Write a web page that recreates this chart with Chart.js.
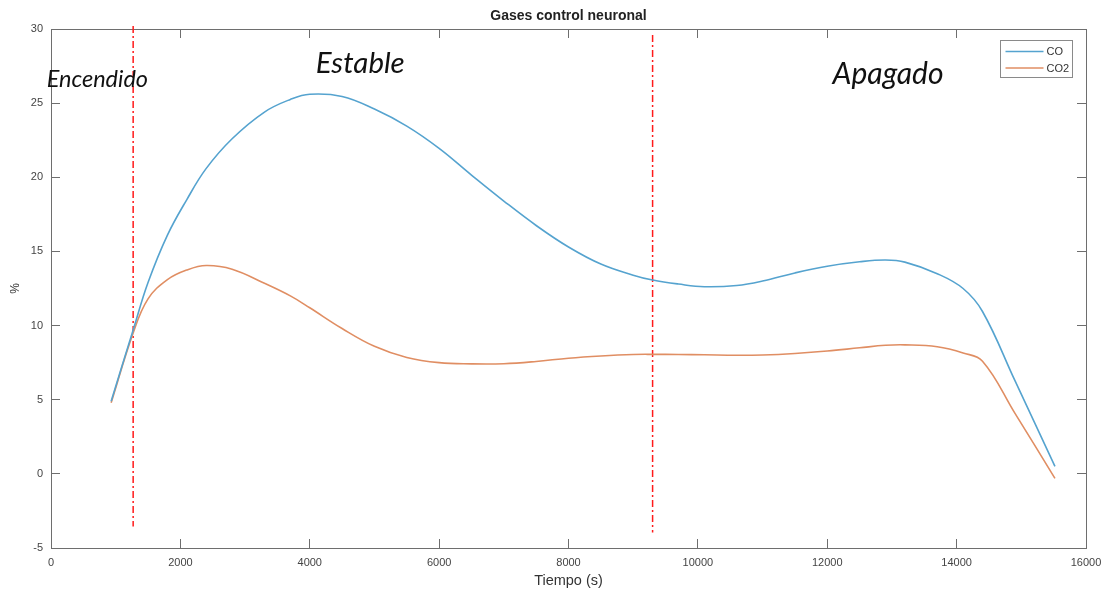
<!DOCTYPE html>
<html>
<head>
<meta charset="utf-8">
<script src="https://cdn.jsdelivr.net/npm/chart.js@4.4.1/dist/chart.umd.min.js"></script>
<style>
  html, body { margin: 0; padding: 0; background: #ffffff; }
  #wrap { width: 1105px; height: 592px; }
</style>
</head>
<body>
<div id="wrap"><canvas id="c" width="1105" height="592"></canvas></div>
<script>
// Sample times (s)
const timeS = [930, 1270, 1500, 1800, 2100, 2400, 2800, 3300, 3700, 4000, 4500, 5000, 5500, 6000,
  6500, 7000, 7500, 8000, 8500, 9000, 9300, 9700, 10100, 10600, 11000, 11500, 12000, 12500,
  12900, 13200, 13700, 14100, 14400, 14900, 15520];

// CO concentration (%)
const coPct = [4.9, 9.7, 12.9, 16.1, 18.5, 20.6, 22.6, 24.4, 25.25, 25.6, 25.45, 24.6, 23.45, 21.95,
  20.15, 18.4, 16.75, 15.3, 14.15, 13.4, 13.07, 12.8, 12.62, 12.7, 13.0, 13.55, 14.0, 14.3,
  14.42, 14.28, 13.5, 12.5, 10.95, 6.3, 0.5];

// CO2 concentration (%)
const co2Pct = [4.8, 9.5, 11.8, 13.1, 13.75, 14.05, 13.8, 12.85, 12.0, 11.2, 9.8, 8.6, 7.85, 7.5,
  7.42, 7.43, 7.58, 7.8, 7.95, 8.05, 8.06, 8.05, 8.03, 8.0, 8.02, 8.12, 8.28, 8.5,
  8.67, 8.7, 8.57, 8.15, 7.6, 4.1, -0.3];

// Phase boundaries (s) and the vertical extent of each marker line (%)
const phaseBoundaryS = [1270, 9300];
const boundaryTop = [30.2, 29.6];
const boundaryBottom = [-3.55, -3.95];

// Phase names and where they are written (s, %)
const phaseNames = ['Encendido', 'Estable', 'Apagado'];
const phaseLabelX = [717, 4780, 12940];
const phaseLabelY = [26.6, 27.68, 26.94];

// Axis ranges
const xRange = [0, 16000];
const xStep = 2000;
const yRange = [-5, 30];
const yStep = 5;

const seriesNames = ['CO', 'CO2'];
const seriesColors = ['#55a3cf', '#e08e63'];

const toPoints = (xs, ys) => xs.map((x, i) => ({ x: x, y: ys[i] }));

const datasets = [
  { label: seriesNames[0], data: toPoints(timeS, coPct), borderColor: seriesColors[0],
    borderWidth: 1.6, pointRadius: 0, tension: 0.4, fill: false },
  { label: seriesNames[1], data: toPoints(timeS, co2Pct), borderColor: seriesColors[1],
    borderWidth: 1.6, pointRadius: 0, tension: 0.4, fill: false }
];
phaseBoundaryS.forEach((s, i) => {
  datasets.push({
    label: 'limite' + i,
    data: [{ x: s, y: boundaryTop[i] }, { x: s, y: boundaryBottom[i] }],
    borderColor: '#ff1a1a', borderWidth: 1.5, borderDash: [7, 3, 2, 3],
    pointRadius: 0, tension: 0, fill: false, clip: false
  });
});

const axisColor = '#6e6e6e';
const tickFont = { family: "'Liberation Sans', Arial, sans-serif", size: 11 };

// Phase names over the plot
const phaseTextPlugin = {
  id: 'phaseText',
  afterDatasetsDraw(chart) {
    const { ctx, scales } = chart;
    ctx.save();
    ctx.fillStyle = '#111111';
    ctx.textAlign = 'center';
    ctx.textBaseline = 'middle';
    const sizes = [23.5, 29.5, 30];
    phaseNames.forEach((name, i) => {
      ctx.font = 'italic ' + sizes[i] + "px Lato, 'Open Sans', sans-serif";
      ctx.fillText(name, scales.x.getPixelForValue(phaseLabelX[i]), scales.y.getPixelForValue(phaseLabelY[i]));
    });
    ctx.restore();
  }
};

// Boxed legend in the upper right corner of the plot
const boxLegendPlugin = {
  id: 'boxLegend',
  afterDraw(chart) {
    const { ctx, chartArea } = chart;
    const w = 72, h = 37;
    const x0 = Math.round(chartArea.right - 14 - w) + 0.5;
    const y0 = Math.round(chartArea.top + 11) + 0.5;
    ctx.save();
    ctx.fillStyle = '#ffffff';
    ctx.fillRect(x0, y0, w, h);
    ctx.strokeStyle = '#8a8a8a';
    ctx.lineWidth = 1;
    ctx.strokeRect(x0, y0, w, h);
    ctx.font = "11px 'Liberation Sans', Arial, sans-serif";
    ctx.textBaseline = 'middle';
    ctx.textAlign = 'left';
    seriesNames.forEach((name, i) => {
      const yy = y0 + 11 + i * 16.5;
      ctx.strokeStyle = seriesColors[i];
      ctx.lineWidth = 1.4;
      ctx.beginPath();
      ctx.moveTo(x0 + 5, yy);
      ctx.lineTo(x0 + 43, yy);
      ctx.stroke();
      ctx.fillStyle = '#333333';
      ctx.fillText(name, x0 + 46, yy + 0.5);
    });
    ctx.restore();
  }
};

const tickGrid = { drawOnChartArea: false, drawTicks: true, tickLength: -9, color: axisColor, lineWidth: 1 };
const axisBorder = { display: true, color: axisColor, width: 1 };

// Fixed-size scale boxes: label overhang is not allowed to shrink the plot
const fixBox = (w, h) => s => {
  if (w !== null) s.width = w;
  if (h !== null) s.height = h;
  s.paddingLeft = 0; s.paddingRight = 0; s.paddingTop = 0; s.paddingBottom = 0;
};

new Chart(document.getElementById('c'), {
  type: 'line',
  data: { datasets: datasets },
  options: {
    responsive: false,
    devicePixelRatio: 1,
    animation: false,
    layout: { padding: { left: 0, right: 19, top: 0, bottom: 0 } },
    plugins: {
      legend: { display: false },
      tooltip: { enabled: false },
      title: {
        display: true,
        fullSize: false,
        text: 'Gases control neuronal',
        color: '#222222',
        font: { family: "'Liberation Sans', Arial, sans-serif", size: 14, weight: 'bold', lineHeight: 1.2 },
        padding: { top: 7.5, bottom: 4.7 }
      }
    },
    scales: {
      x: {
        type: 'linear', position: 'bottom',
        min: xRange[0], max: xRange[1],
        ticks: { stepSize: xStep, color: '#444444', font: tickFont, padding: 17, maxRotation: 0, autoSkip: false,
                 callback: v => String(v) },
        grid: tickGrid, border: axisBorder,
        title: { display: true, text: 'Tiempo (s)', color: '#333333',
                 font: { family: "'Liberation Sans', Arial, sans-serif", size: 14.5, lineHeight: 1.2 },
                 padding: { top: 0, bottom: 2.3 } },
        afterFit: fixBox(null, 44)
      },
      x2: {
        type: 'linear', position: 'top',
        min: xRange[0], max: xRange[1],
        ticks: { stepSize: xStep, display: true, color: 'rgba(0,0,0,0)', font: tickFont, padding: 0 },
        grid: tickGrid, border: axisBorder,
        afterFit: fixBox(null, 0)
      },
      y: {
        type: 'linear', position: 'left',
        min: yRange[0], max: yRange[1],
        ticks: { stepSize: yStep, color: '#444444', font: tickFont, padding: 17 },
        grid: tickGrid, border: axisBorder,
        title: { display: true, text: '%', color: '#333333',
                 font: { family: "'Liberation Sans', Arial, sans-serif", size: 12, lineHeight: 1.2 },
                 padding: { top: 8, bottom: 0 } },
        afterFit: fixBox(51, null)
      },
      y2: {
        type: 'linear', position: 'right',
        min: yRange[0], max: yRange[1],
        ticks: { stepSize: yStep, display: true, color: 'rgba(0,0,0,0)', font: tickFont, padding: 0 },
        grid: tickGrid, border: axisBorder,
        afterFit: fixBox(0, null)
      }
    }
  },
  plugins: [phaseTextPlugin, boxLegendPlugin]
});
</script>
</body>
</html>
